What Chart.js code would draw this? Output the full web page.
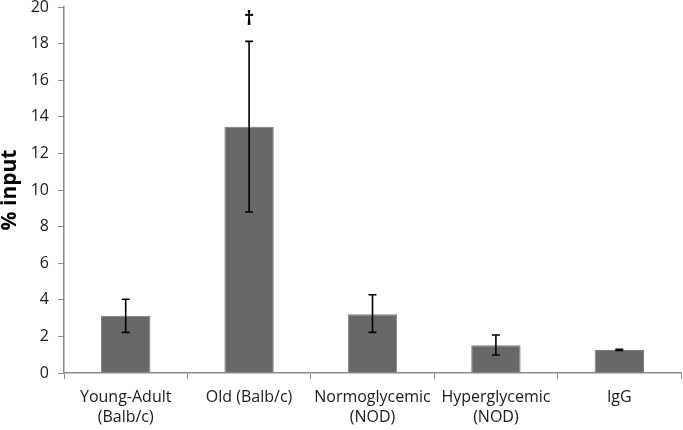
<!DOCTYPE html>
<html>
<head>
<meta charset="utf-8">
<script src="https://cdn.jsdelivr.net/npm/chart.js@4/dist/chart.umd.min.js"></script>
<style>
  html, body { margin: 0; padding: 0; background: #ffffff; }
  #wrap { width: 683px; height: 430px; position: relative; }
</style>
</head>
<body>
<div id="wrap"><canvas id="c" width="683" height="430"></canvas></div>
<script>
const categories = [["Young-Adult", "(Balb/c)"], ["Old (Balb/c)"], ["Normoglycemic", "(NOD)"], ["Hyperglycemic", "(NOD)"], ["IgG"]];
const meanValues = [3.13, 13.46, 3.21, 1.51, 1.26];
const errorLow = [2.22, 8.80, 2.22, 0.98, 1.23];
const errorHigh = [4.03, 18.12, 4.28, 2.08, 1.29];
const markLabels = ["", "\u2020", "", "", ""];
const yTicks = [0, 2, 4, 6, 8, 10, 12, 14, 16, 18, 20];

const errorBarPlugin = {
  id: 'errorBars',
  afterDatasetsDraw(chart) {
    const ctx = chart.ctx;
    const xs = chart.scales.x, ys = chart.scales.y;
    ctx.save();
    ctx.strokeStyle = '#000000';
    ctx.lineWidth = 1.6;
    const cap = 4;
    for (let i = 0; i < meanValues.length; i++) {
      const x = xs.getPixelForValue(i);
      const yl = ys.getPixelForValue(errorLow[i]);
      const yh = ys.getPixelForValue(errorHigh[i]);
      ctx.beginPath();
      ctx.moveTo(x, yl); ctx.lineTo(x, yh);
      ctx.moveTo(x - cap, yl); ctx.lineTo(x + cap, yl);
      ctx.moveTo(x - cap, yh); ctx.lineTo(x + cap, yh);
      ctx.stroke();
      if (markLabels[i]) {
        ctx.fillStyle = '#000000';
        ctx.font = 'bold 20px "Open Sans", sans-serif';
        ctx.textAlign = 'center';
        ctx.textBaseline = 'middle';
        ctx.fillText(markLabels[i], x, yh - 22);
      }
    }
    ctx.restore();
  }
};

new Chart(document.getElementById('c'), {
  type: 'bar',
  data: {
    labels: categories,
    datasets: [{
      data: meanValues,
      backgroundColor: '#686868',
      borderColor: '#7c7c7c',
      borderWidth: 1,
      barPercentage: 0.4,
      categoryPercentage: 1.0
    }]
  },
  options: {
    responsive: false,
    animation: false,
    devicePixelRatio: 1,
    layout: { padding: { top: 7, right: 2, left: 0, bottom: 0 } },
    plugins: { legend: { display: false }, tooltip: { enabled: false } },
    scales: {
      x: {
        offset: true,
        grid: { display: true, drawOnChartArea: false, drawTicks: true, tickLength: 6, color: '#8a8a8a', offset: true },
        border: { display: true, color: '#8a8a8a', width: 1.5 },
        ticks: { color: '#1a1a1a', font: { family: '"Open Sans", sans-serif', size: 16, lineHeight: 1.25 }, padding: 8, maxRotation: 0, autoSkip: false },
        afterFit(s) { s.height = 57; s.paddingLeft = 0; s.paddingRight = 0; }
      },
      y: {
        min: 0, max: 20,
        afterBuildTicks(s) { s.ticks = yTicks.map(v => ({ value: v })); },
        grid: { display: true, drawOnChartArea: false, drawTicks: true, tickLength: 6, color: '#8a8a8a' },
        border: { display: true, color: '#8a8a8a', width: 1.5 },
        ticks: { color: '#1a1a1a', font: { family: '"Open Sans", sans-serif', size: 16 }, padding: 9 },
        title: { display: true, text: '% input', color: '#000000', font: { family: '"Open Sans", sans-serif', size: 21, weight: 'bold', lineHeight: 1 }, padding: { top: 0, bottom: 0 } },
        afterFit(s) { s.width = 64; s.paddingTop = 0; s.paddingBottom = 0; }
      }
    }
  },
  plugins: [errorBarPlugin]
});
</script>
</body>
</html>
